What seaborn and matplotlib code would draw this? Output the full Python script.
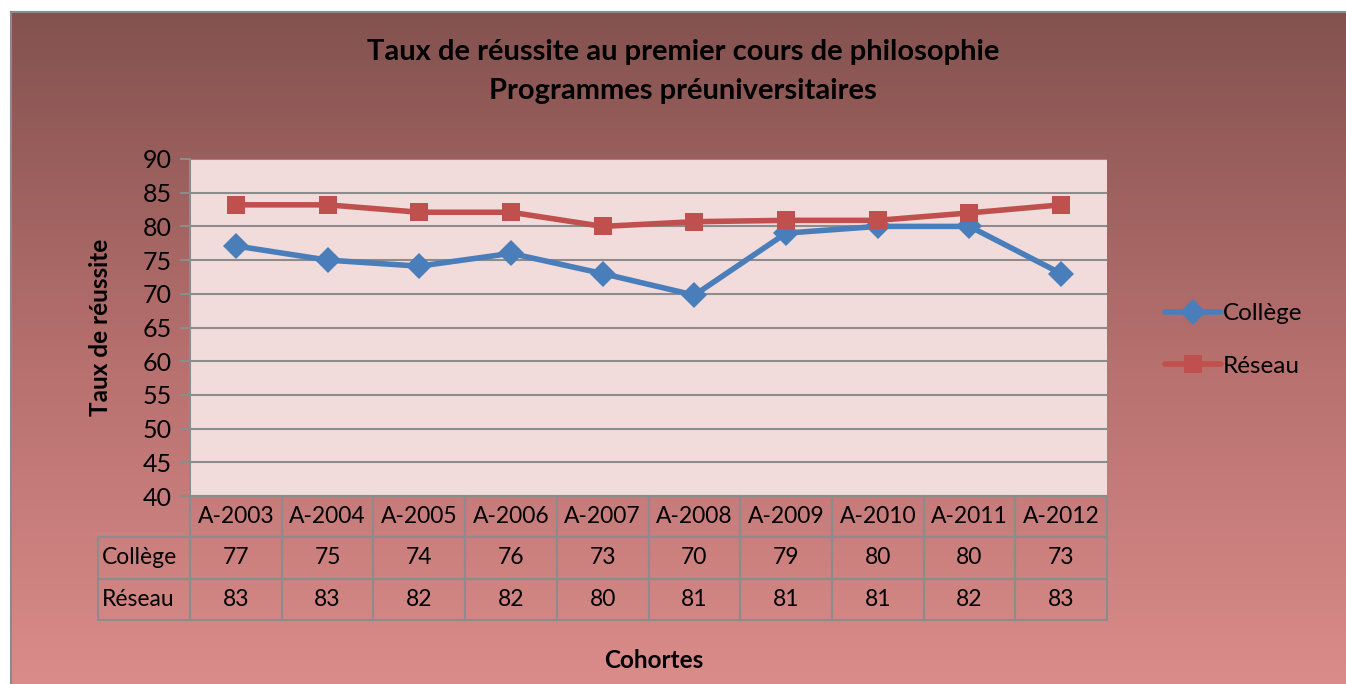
import numpy as np
import pandas as pd
import matplotlib.pyplot as plt
import matplotlib.lines as mlines
from matplotlib.colors import LinearSegmentedColormap
import seaborn as sns

# data
cohortes = ["A-2003", "A-2004", "A-2005", "A-2006", "A-2007",
            "A-2008", "A-2009", "A-2010", "A-2011", "A-2012"]
college = [77.1, 75.0, 74.1, 76.0, 73.0, 69.8, 79.0, 80.0, 80.0, 73.0]
reseau = [83.2, 83.2, 82.1, 82.1, 80.0, 80.7, 80.9, 80.9, 82.0, 83.2]

df = pd.DataFrame({"Cohorte": cohortes * 2,
                   "Taux": college + reseau,
                   "Série": ["Collège"] * 10 + ["Réseau"] * 10})

sns.set_style("white")
plt.rcParams['font.family'] = ['Lato', 'DejaVu Sans']
plt.rcParams['text.color'] = 'black'
plt.rcParams['axes.labelcolor'] = 'black'

fig = plt.figure(figsize=(13.46, 6.84), dpi=100)
W, H = 1346, 684

# gradient background of the chart box
bg = fig.add_axes([11 / W, 0, 1 - 11 / W, 1 - 12 / H])
cmap = LinearSegmentedColormap.from_list("bg", ["#83524f", "#b56f6d", "#da8c8a"])
bg.imshow(np.linspace(0, 1, 256).reshape(-1, 1), aspect="auto", cmap=cmap,
          extent=[0, 1, 0, 1])
bg.set_xticks([])
bg.set_yticks([])
for s in ["right", "bottom"]:
    bg.spines[s].set_visible(False)
for s in ["left", "top"]:
    bg.spines[s].set_color("#8a8a8a")
    bg.spines[s].set_linewidth(1.5)

# plot area
x0, x1, y0, y1 = 190, 1107, 159, 496
ax = fig.add_axes([x0 / W, 1 - y1 / H, (x1 - x0) / W, (y1 - y0) / H])
ax.set_facecolor("#f2dcdb")

palette = {"Collège": "#4a7ebb", "Réseau": "#c0504d"}
sns.lineplot(data=df, x="Cohorte", y="Taux", hue="Série", style="Série",
             palette=palette, markers={"Collège": "D", "Réseau": "s"},
             dashes=False, linewidth=4, markersize=13, markeredgewidth=0,
             legend=False, ax=ax, zorder=3)

ax.set_xlim(-0.5, len(cohortes) - 0.5)
ax.set_ylim(40, 90)
ax.set_yticks(range(40, 91, 5))
ax.yaxis.grid(True, color="#8c8c8c", linewidth=1.5)
ax.set_axisbelow(True)
ax.set_xticks([])
ax.set_xlabel("")
ax.set_ylabel("Taux de réussite", fontsize=17.5, fontweight="bold")
ax.yaxis.set_label_coords((112 - x0) / (x1 - x0), 0.5)
ax.tick_params(axis="y", labelsize=18, length=7, width=1.5, color="#8c8c8c",
               labelcolor="black", left=True, pad=6)
for s in ["top", "right", "bottom"]:
    ax.spines[s].set_visible(False)
ax.spines["left"].set_color("#8c8c8c")
ax.spines["left"].set_linewidth(1.5)

# data table below the plot
cells = [[f"{v:.0f}" for v in college], [f"{v:.0f}" for v in reseau]]
ty1 = 620
tab = ax.table(cellText=cells, rowLabels=["Collège", "Réseau"],
               colLabels=cohortes, cellLoc="center", rowLoc="left",
               bbox=[0, -(ty1 - y1) / (y1 - y0), 1, (ty1 - y1) / (y1 - y0)])
tab._autoColumns = []
tab.auto_set_font_size(False)
tab.set_fontsize(16.5)
for (r, c), cell in tab.get_celld().items():
    cell.set_facecolor("none")
    cell.set_edgecolor("#8c8c8c")
    cell.set_linewidth(1.5)
    if c == -1:
        cell.set_width(tab[0, 0].get_width())
        cell.PAD = 0.04

fig.text(683 / W, 1 - 52 / H, "Taux de réussite au premier cours de philosophie",
         ha="center", va="center", fontsize=21, fontweight="bold")
fig.text(683 / W, 1 - 91 / H, "Programmes préuniversitaires",
         ha="center", va="center", fontsize=21, fontweight="bold")
fig.text(654 / W, 1 - 661 / H, "Cohortes", ha="center", va="center",
         fontsize=17.5, fontweight="bold")

handles = [mlines.Line2D([], [], color=palette["Collège"], marker="D", lw=4,
                         markersize=13, markeredgewidth=0, label="Collège"),
           mlines.Line2D([], [], color=palette["Réseau"], marker="s", lw=4,
                         markersize=13, markeredgewidth=0, label="Réseau")]
fig.legend(handles=handles, loc="center left",
           bbox_to_anchor=(1143 / W, 1 - 340 / H), frameon=False, fontsize=17.5,
           handlelength=2.3, handletextpad=0.1, labelspacing=1.3)

fig.savefig("out.png", dpi=100)
